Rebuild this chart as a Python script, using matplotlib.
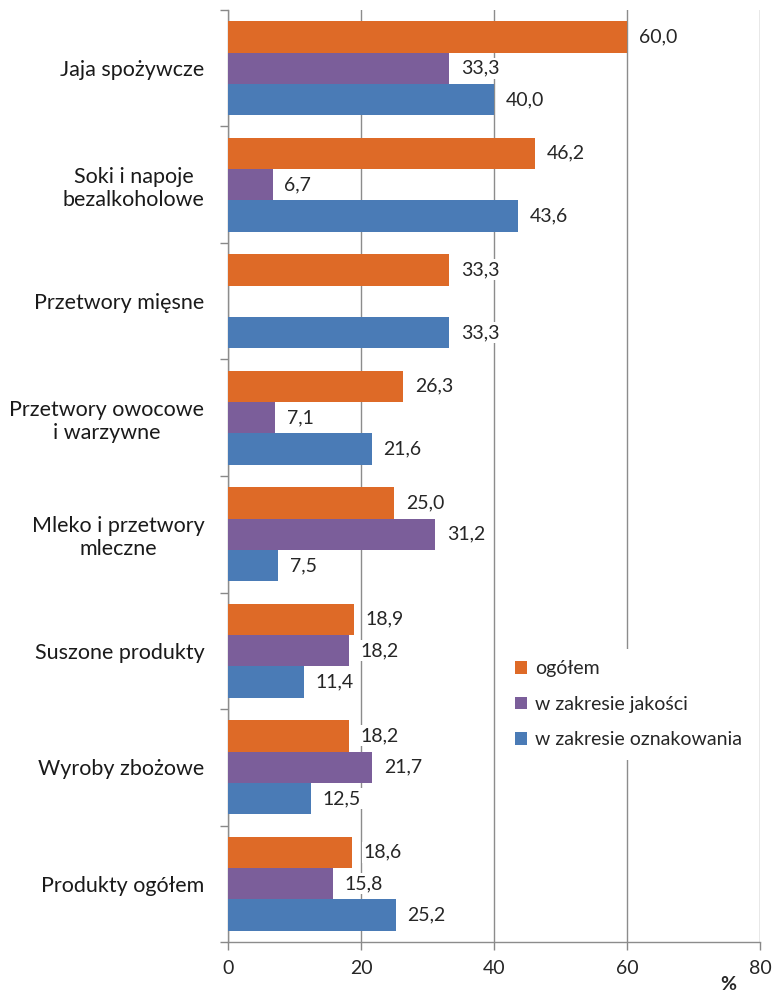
import numpy as np
import matplotlib
matplotlib.use("Agg")
import matplotlib.pyplot as plt

plt.rcParams['font.family'] = ['Lato', 'DejaVu Sans']

categories = [
    "Jaja spożywcze",
    "Soki i napoje\nbezalkoholowe",
    "Przetwory mięsne",
    "Przetwory owocowe\ni warzywne",
    "Mleko i przetwory\nmleczne",
    "Suszone produkty",
    "Wyroby zbożowe",
    "Produkty ogółem",
]
ogolem = [60.0, 46.2, 33.3, 26.3, 25.0, 18.9, 18.2, 18.6]
jakosc = [33.3, 6.7, np.nan, 7.1, 31.2, 18.2, 21.7, 15.8]
oznakowanie = [40.0, 43.6, 33.3, 21.6, 7.5, 11.4, 12.5, 25.2]

series_names = ["ogółem", "w zakresie jakości", "w zakresie oznakowania"]
colors = ["#DE6A27", "#7B5E9A", "#4A7BB6"]

fig = plt.figure(figsize=(7.73, 9.96), dpi=100)
ax = fig.add_axes([228/773, 1-942/996, 532/773, 932/996])

y = np.arange(len(categories))
h = 0.27
offsets = [-h, 0, h]
for vals, off, col, name in zip([ogolem, jakosc, oznakowanie], offsets, colors, series_names):
    v = np.array(vals, dtype=float)
    ax.barh(y + off, np.nan_to_num(v), height=h, color=col, label=name, zorder=3)
    for yi, val in zip(y, v):
        if np.isnan(val):
            continue
        ax.annotate(f"{val:.1f}".replace(".", ","), xy=(val, yi + off),
                    xytext=(8.5, 0), textcoords="offset points", ha="left", va="center",
                    fontsize=14, color="#262626", zorder=4,
                    bbox=dict(boxstyle="square,pad=0.1", fc="white", ec="none"))

ax.set_xlim(0, 80)
ax.set_ylim(len(categories) - 0.5, -0.5)
ax.set_xticks([0, 20, 40, 60, 80])
ax.tick_params(axis="x", labelsize=14, colors="#262626", length=6, width=1,
               color="#888888", pad=7)
ax.set_yticks(y)
ax.set_yticklabels(categories, fontsize=15.5, color="#1a1a1a", multialignment="center")
ax.tick_params(axis="y", length=0, pad=17)
ax.set_yticks(np.arange(-0.5, len(categories), 1), minor=True)
ax.tick_params(axis="y", which="minor", length=6, width=1, color="#888888")

ax.grid(axis="x", color="#8c8c8c", linewidth=1, zorder=0)
for s in ["top", "right"]:
    ax.spines[s].set_visible(False)
for s in ["left", "bottom"]:
    ax.spines[s].set_color("#8c8c8c")
    ax.spines[s].set_linewidth(1)

leg = ax.legend(loc="upper left", bbox_to_anchor=(0.5, 0.325), frameon=True,
                fontsize=14, handlelength=0.6, handleheight=0.6, handletextpad=0.4,
                labelspacing=0.95, borderpad=0.6, facecolor="white", edgecolor="none",
                framealpha=1, fancybox=False)
leg.set_zorder(5)
for t in leg.get_texts():
    t.set_color("#262626")

fig.text(728/773, 1-984/996, "%", fontsize=14, fontweight="bold", ha="center",
         va="center", color="#262626")

fig.savefig("out.png", dpi=100)
